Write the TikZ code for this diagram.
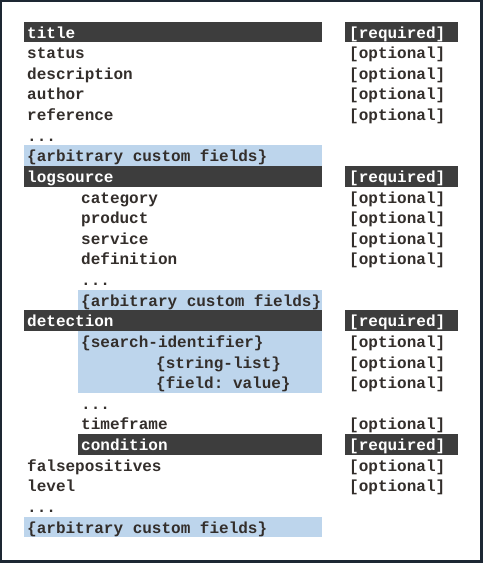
\documentclass[tikz,border=0pt]{standalone}
\usepackage{fontspec}
\setmonofont{Liberation Mono}
\definecolor{frame}{HTML}{1D2733}
\definecolor{darkbar}{HTML}{3D3D3D}
\definecolor{lightbar}{HTML}{BDD5EC}
\definecolor{txt}{HTML}{332E2B}
\tikzset{
  lbl/.style={anchor=west,inner sep=0pt,font=\ttfamily\bfseries\fontsize{16}{16}\selectfont,text=txt,text height=12pt,text depth=0pt},
  inv/.style={lbl,text=white},
  darkfill/.style={fill=darkbar},
  lightfill/.style={fill=lightbar}
}
\newcommand{\tdots}{.{}.{}.}
\begin{document}
\begin{tikzpicture}[x=1pt,y=-1pt]
\useasboundingbox (0,0) rectangle (483,563);
\fill[frame] (0,0) rectangle (483,563);
\fill[white] (2,1.5) rectangle (480,560);
% bars
\foreach \r/\xa/\xb/\st in {0/24/322/darkfill, 0/345/458/darkfill,
  6/24/322/lightfill, 7/24/322/darkfill, 7/345/458/darkfill,
  13/78/322/lightfill, 14/24/322/darkfill, 14/345/458/darkfill,
  20/78/322/darkfill, 20/345/458/darkfill, 24/24/322/lightfill}{
  \pgfmathsetmacro{\ya}{32+20.625*\r-10.4}
  \pgfmathsetmacro{\yb}{32+20.625*\r+10.4}
  \fill[\st] (\xa,\ya) rectangle (\xb,\yb);
}
\pgfmathsetmacro{\ya}{32+20.625*15-10.4}
\pgfmathsetmacro{\yb}{32+20.625*17+10.4}
\fill[lightfill] (78,\ya) rectangle (322,\yb);
% left labels
\foreach \r/\xx/\st/\t/\nm in {
  0/27/inv/title/title, 1/27/lbl/status/status, 2/27/lbl/description/description,
  3/27/lbl/author/author, 4/27/lbl/reference/reference, 5/27/lbl/\tdots/dotsa,
  6/27/lbl/\{arbitrary custom fields\}/customa, 7/27/inv/logsource/logsource,
  8/81/lbl/category/category, 9/81/lbl/product/product, 10/81/lbl/service/service,
  11/81/lbl/definition/definition, 12/81/lbl/\tdots/dotsb,
  13/81/lbl/\{arbitrary custom fields\}/customb, 14/27/inv/detection/detection,
  15/81/lbl/\{search-identifier\}/searchid, 16/156/lbl/\{string-list\}/stringlist,
  17/156/lbl/\{field: value\}/fieldvalue, 18/81/lbl/\tdots/dotsc,
  19/81/lbl/timeframe/timeframe, 20/81/inv/condition/condition,
  21/27/lbl/falsepositives/falsepositives, 22/27/lbl/level/level,
  23/27/lbl/\tdots/dotsd, 24/27/lbl/\{arbitrary custom fields\}/customc}{
  \pgfmathsetmacro{\cy}{32+20.625*\r}
  \node[\st] (\nm) at (\xx,\cy) {\t};
}
% right labels
\foreach \r/\st/\t in {0/inv/required, 1/lbl/optional, 2/lbl/optional, 3/lbl/optional,
  4/lbl/optional, 7/inv/required, 8/lbl/optional, 9/lbl/optional, 10/lbl/optional,
  11/lbl/optional, 14/inv/required, 15/lbl/optional, 16/lbl/optional, 17/lbl/optional,
  19/lbl/optional, 20/inv/required, 21/lbl/optional, 22/lbl/optional}{
  \pgfmathsetmacro{\cy}{32+20.625*\r}
  \node[\st] (r\r) at (349,\cy) {[\t]};
}
\end{tikzpicture}
\end{document}
